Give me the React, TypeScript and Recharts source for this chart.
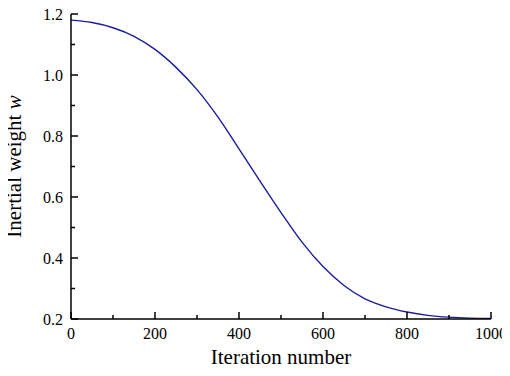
import { Line, LineChart, XAxis, YAxis } from 'recharts'

// iteration numbers (x) and inertial weight values (y)
const iterations = [0, 50, 100, 150, 200, 250, 300, 350, 400, 450, 500, 550, 600, 650, 700, 750, 800, 850, 900, 950, 1000]
const weights = [1.18, 1.172, 1.155, 1.127, 1.084, 1.025, 0.952, 0.862, 0.758, 0.652, 0.549, 0.452, 0.372, 0.31, 0.266, 0.24, 0.223, 0.212, 0.206, 0.203, 0.202]

const xTicks = [0, 100, 200, 300, 400, 500, 600, 700, 800, 900, 1000]
const xLabelled = [0, 200, 400, 600, 800, 1000]
const yTicks = [0.2, 0.3, 0.4, 0.5, 0.6, 0.7, 0.8, 0.9, 1.0, 1.1, 1.2]
const yLabelled = [0.2, 0.4, 0.6, 0.8, 1.0, 1.2]

const FONT = "'Liberation Serif', 'Times New Roman', 'DejaVu Serif', serif"
const MARGIN = 9
const txt = { fontFamily: FONT, fill: '#000' }

function XTick({ x, y, payload }: any) {
  const v = payload.value
  const major = xLabelled.includes(v)
  const axisY = y - MARGIN
  return (
    <g>
      <line x1={x} x2={x} y1={axisY} y2={axisY - (major ? 7 : 4)} stroke="#000" strokeWidth={1.5} />
      {major && (
        <text x={x} y={y} dy="0.71em" textAnchor="middle" fontSize={16} style={txt}>
          {v}
        </text>
      )}
    </g>
  )
}

function YTick({ x, y, payload }: any) {
  const v = payload.value
  const major = yLabelled.some((t) => Math.abs(t - v) < 1e-6)
  const axisX = x + MARGIN
  return (
    <g>
      <line x1={axisX} x2={axisX + (major ? 7 : 4)} y1={y} y2={y} stroke="#000" strokeWidth={1.5} />
      {major && (
        <text x={x + 1} y={y} dy="0.36em" textAnchor="end" fontSize={16} style={txt}>
          {v.toFixed(1)}
        </text>
      )}
    </g>
  )
}

export default function App() {
  const data = iterations.map((it, i) => ({ it, w: weights[i] }))

  return (
    <div style={{ margin: -8, width: 510, height: 376, background: '#fff' }}>
      <LineChart width={510} height={376} data={data} margin={{ top: 14, right: 19, bottom: 0, left: 0 }}>
        <XAxis
          dataKey="it"
          type="number"
          domain={[0, 1000]}
          ticks={xTicks}
          interval={0}
          tick={<XTick />}
          tickLine={false}
          tickSize={0}
          tickMargin={MARGIN}
          axisLine={{ stroke: '#000', strokeWidth: 1.5 }}
          height={57}
          label={({ viewBox }: any) => (
            <text x={viewBox.x + viewBox.width / 2} y={364} textAnchor="middle" fontSize={21} style={txt}>
              Iteration number
            </text>
          )}
        />
        <XAxis
          xAxisId="top"
          orientation="top"
          dataKey="it"
          type="number"
          domain={[0, 1000]}
          tick={false}
          tickLine={false}
          height={0}
          axisLine={{ stroke: '#666', strokeWidth: 1.5 }}
        />
        <YAxis
          type="number"
          domain={[0.2, 1.2]}
          ticks={yTicks}
          interval={0}
          tick={<YTick />}
          tickLine={false}
          tickSize={0}
          tickMargin={MARGIN}
          axisLine={{ stroke: '#000', strokeWidth: 1.5 }}
          width={71}
          label={({ viewBox }: any) => {
            const cy = viewBox.y + viewBox.height / 2
            return (
              <text x={21} y={cy} transform={`rotate(-90, 21, ${cy})`} textAnchor="middle" fontSize={21} style={txt}>
                Inertial weight <tspan fontStyle="italic">w</tspan>
              </text>
            )
          }}
        />
        <YAxis
          yAxisId="right"
          orientation="right"
          type="number"
          domain={[0.2, 1.2]}
          tick={false}
          tickLine={false}
          width={0}
          axisLine={{ stroke: '#000', strokeWidth: 1.5 }}
        />
        <Line type="monotone" dataKey="w" stroke="#1c1ca0" strokeWidth={1.4} dot={false} isAnimationActive={false} />
      </LineChart>
    </div>
  )
}
